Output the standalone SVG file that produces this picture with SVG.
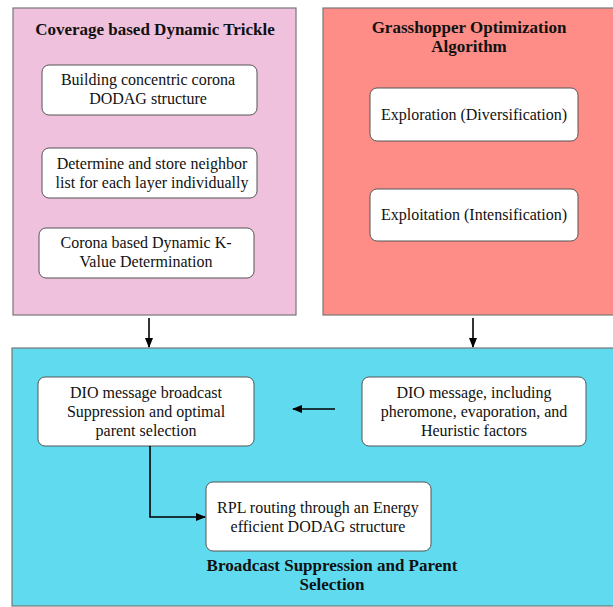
<svg xmlns="http://www.w3.org/2000/svg" width="613" height="607" viewBox="0 0 613 607">
<defs>
<marker id="ah" markerWidth="10" markerHeight="8" refX="9" refY="4" orient="auto" markerUnits="userSpaceOnUse">
<path d="M0,0 L10,4 L0,8 Z" fill="#000"/>
</marker>
<style>
.panel{stroke:#777;stroke-width:1.2}
.node{fill:#fff;stroke:#555;stroke-width:1}
text{font-family:"Liberation Serif","Times New Roman",serif;font-size:16px;fill:#111;text-anchor:middle}
.h{font-weight:bold;font-size:17px}
.c{fill:none;stroke:#000;stroke-width:1.6}
</style>
</defs>
<rect width="613" height="607" fill="#fff"/>
<g id="panel-trickle">
<rect class="panel" x="13" y="8" width="283" height="307" fill="#f0c1dd"/>
<text class="h" x="155" y="35">Coverage based Dynamic Trickle</text>
</g>
<g id="panel-goa">
<rect class="panel" x="323" y="8" width="292" height="307" fill="#fd8d86"/>
<text class="h" x="469" y="33">Grasshopper Optimization</text>
<text class="h" x="469" y="52">Algorithm</text>
</g>
<g id="panel-broadcast">
<rect class="panel" x="12" y="348" width="603" height="258" fill="#5fdaee"/>
<text class="h" x="332" y="571">Broadcast Suppression and Parent</text>
<text class="h" x="332" y="590">Selection</text>
</g>
<g id="n-building">
<rect class="node" x="42" y="65" width="215" height="50" rx="7"/>
<text x="148" y="85">Building concentric corona</text>
<text x="148" y="104">DODAG structure</text>
</g>
<g id="n-neighbor">
<rect class="node" x="42" y="148" width="215" height="50" rx="7"/>
<text x="152" y="169">Determine and store neighbor</text>
<text x="152" y="188">list for each layer individually</text>
</g>
<g id="n-kvalue">
<rect class="node" x="39" y="228" width="215" height="50" rx="7"/>
<text x="146" y="248">Corona based Dynamic K-</text>
<text x="146" y="267">Value Determination</text>
</g>
<g id="n-exploration">
<rect class="node" x="370" y="88" width="208" height="53" rx="7"/>
<text x="474" y="120">Exploration (Diversification)</text>
</g>
<g id="n-exploitation">
<rect class="node" x="370" y="189" width="208" height="52" rx="7"/>
<text x="474" y="220">Exploitation (Intensification)</text>
</g>
<g id="n-dio-suppress">
<rect class="node" x="38" y="377" width="216" height="69" rx="7"/>
<text x="146" y="398">DIO message broadcast</text>
<text x="146" y="417">Suppression and optimal</text>
<text x="146" y="436">parent selection</text>
</g>
<g id="n-dio-msg">
<rect class="node" x="362" y="377" width="224" height="69" rx="7"/>
<text x="474" y="398">DIO message, including</text>
<text x="474" y="417">pheromone, evaporation, and</text>
<text x="474" y="436">Heuristic factors</text>
</g>
<g id="n-rpl">
<rect class="node" x="206" y="482" width="225" height="69" rx="7"/>
<text x="318" y="513">RPL routing through an Energy</text>
<text x="318" y="532">efficient DODAG structure</text>
</g>
<g id="connectors">
<line class="c" x1="149" y1="318" x2="149" y2="347" marker-end="url(#ah)"/>
<line class="c" x1="473" y1="318" x2="473" y2="347" marker-end="url(#ah)"/>
<line class="c" x1="335" y1="409" x2="293" y2="409" marker-end="url(#ah)"/>
<polyline class="c" points="150,446 150,517 205,517" marker-end="url(#ah)"/>
</g>
</svg>
